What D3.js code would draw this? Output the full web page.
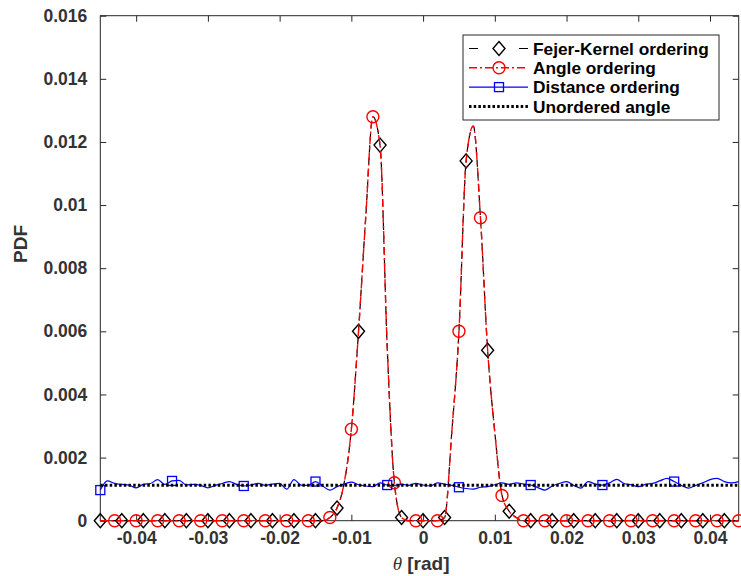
<!DOCTYPE html>
<html>
<head>
<meta charset="utf-8">
<script src="https://cdn.jsdelivr.net/npm/d3@7"></script>
<style>
  body { margin: 0; background: #fff; }
  text { font-family: "Liberation Sans", Arial, sans-serif; }
</style>
</head>
<body>
<div id="chart"></div>
<script>
// chart data (theta grid step 0.001 rad, from -0.045 to 0.044)
var thetaGrid = d3.range(90).map(i => +(-0.045 + 0.001 * i).toFixed(3));

var fejerPdf = [
  0, 0, 0, 0, 0, 0, 0, 0, 0, 0,
  0, 0, 0, 0, 0, 0, 0, 0, 0, 0,
  0, 0, 0, 0, 0, 0, 0, 0, 0, 0,
  0, 0, 0.0001, 0.0004, 0.0012, 0.0029, 0.0060, 0.0096, 0.0128, 0.0119,
  0.0055, 0.0012, 0.0001, 0, 0, 0, 0, 0, 0.0001, 0.0028,
  0.0060, 0.0114, 0.0125, 0.0096, 0.0054, 0.0028, 0.0008, 0.0003, 0.0001, 0,
  0, 0, 0, 0, 0, 0, 0, 0, 0, 0,
  0, 0, 0, 0, 0, 0, 0, 0, 0, 0,
  0, 0, 0, 0, 0, 0, 0, 0, 0, 0
];

var anglePdf = [
  0, 0, 0, 0, 0, 0, 0, 0, 0, 0,
  0, 0, 0, 0, 0, 0, 0, 0, 0, 0,
  0, 0, 0, 0, 0, 0, 0, 0, 0, 0,
  0, 0, 0.0001, 0.0004, 0.0012, 0.0029, 0.0060, 0.0096, 0.0128, 0.0119,
  0.0055, 0.0012, 0.0001, 0, 0, 0, 0, 0, 0.0001, 0.0028,
  0.0060, 0.0114, 0.0125, 0.0096, 0.0054, 0.0028, 0.0008, 0.0003, 0.0001, 0,
  0, 0, 0, 0, 0, 0, 0, 0, 0, 0,
  0, 0, 0, 0, 0, 0, 0, 0, 0, 0,
  0, 0, 0, 0, 0, 0, 0, 0, 0, 0
];

var distancePdf = [
  0.00097, 0.00126, 0.00118, 0.00115, 0.00113, 0.00104, 0.00115, 0.00118, 0.00130, 0.00115,
  0.00126, 0.00128, 0.00113, 0.00115, 0.00112, 0.00104, 0.00112, 0.00118, 0.00124, 0.00115,
  0.00110, 0.00113, 0.00118, 0.00112, 0.00116, 0.00118, 0.00100, 0.00130, 0.00113, 0.00112,
  0.00124, 0.00110, 0.00097, 0.00108, 0.00116, 0.00122, 0.00114, 0.00110, 0.00108, 0.00120,
  0.00113, 0.00112, 0.00116, 0.00112, 0.00118, 0.00113, 0.00110, 0.00120, 0.00116, 0.00112,
  0.00106, 0.00102, 0.00100, 0.00106, 0.00108, 0.00114, 0.00120, 0.00115, 0.00120, 0.00116,
  0.00113, 0.00105, 0.00097, 0.00110, 0.00118, 0.00124, 0.00112, 0.00103, 0.00124, 0.00116,
  0.00113, 0.00120, 0.00131, 0.00118, 0.00114, 0.00108, 0.00115, 0.00118, 0.00126, 0.00134,
  0.00124, 0.00112, 0.00103, 0.00112, 0.00120, 0.00130, 0.00134, 0.00124, 0.00120, 0.00124
];

var unorderedTheta = [-0.045, 0.044];
var unorderedPdf = [0.00112, 0.00112];

var xTicks = [-0.04, -0.03, -0.02, -0.01, 0, 0.01, 0.02, 0.03, 0.04];
var xTickLabels = ["-0.04", "-0.03", "-0.02", "-0.01", "0", "0.01", "0.02", "0.03", "0.04"];
var yTicks = [0, 0.002, 0.004, 0.006, 0.008, 0.01, 0.012, 0.014, 0.016];
var yTickLabels = ["0", "0.002", "0.004", "0.006", "0.008", "0.01", "0.012", "0.014", "0.016"];

var legendNames = ["Fejer-Kernel ordering", "Angle ordering", "Distance ordering", "Unordered angle"];

// size and margins
var svgWidth = 741;
var svgHeight = 576;
var margin = { top: 15.7, right: 2.3, bottom: 55.3, left: 100.3 };
var chartWidth = svgWidth - margin.left - margin.right;
var chartHeight = svgHeight - margin.top - margin.bottom;
var axisColor = "#262626";

var svg = d3.select("#chart")
  .append("svg")
  .attr("width", svgWidth)
  .attr("height", svgHeight);

var chartGroup = svg.append("g")
  .attr("transform", `translate(${margin.left}, ${margin.top})`);

var xScale = d3.scaleLinear().domain([-0.045, 0.044]).range([0, chartWidth]);
var yScale = d3.scaleLinear().domain([0, 0.016]).range([chartHeight, 0]);

// axes: ticks inside on all four sides
var tickLen = 6;
function styleAxis(g) {
  g.select(".domain").remove();
  g.selectAll(".tick line").attr("stroke", axisColor).attr("stroke-width", 1);
  g.selectAll(".tick text")
    .attr("fill", "#333")
    .attr("font-size", 17.5)
    .attr("font-weight", "bold");
}

chartGroup.append("g")
  .attr("transform", `translate(0, ${chartHeight})`)
  .call(d3.axisBottom(xScale).tickValues(xTicks).tickSize(-tickLen).tickPadding(11)
    .tickFormat((d, i) => xTickLabels[i]))
  .call(styleAxis);

chartGroup.append("g")
  .call(d3.axisTop(xScale).tickValues(xTicks).tickSize(-tickLen).tickFormat(""))
  .call(styleAxis);

chartGroup.append("g")
  .call(d3.axisLeft(yScale).tickValues(yTicks).tickSize(-tickLen).tickPadding(13)
    .tickFormat((d, i) => yTickLabels[i]))
  .call(styleAxis);

chartGroup.append("g")
  .attr("transform", `translate(${chartWidth}, 0)`)
  .call(d3.axisRight(yScale).tickValues(yTicks).tickSize(-tickLen).tickFormat(""))
  .call(styleAxis);

chartGroup.append("rect")
  .attr("width", chartWidth)
  .attr("height", chartHeight)
  .attr("fill", "none")
  .attr("stroke", axisColor)
  .attr("stroke-width", 1);

// series
var fejerData = thetaGrid.map((t, i) => ({ x: t, y: fejerPdf[i], i: i }));
var angleData = thetaGrid.map((t, i) => ({ x: t, y: anglePdf[i], i: i }));
var distanceData = thetaGrid.map((t, i) => ({ x: t, y: distancePdf[i], i: i }));
var unorderedData = unorderedTheta.map((t, i) => ({ x: t, y: unorderedPdf[i] }));

var line = d3.line().x(d => xScale(d.x)).y(d => yScale(d.y));
var smoothLine = d3.line().x(d => xScale(d.x)).y(d => yScale(d.y)).curve(d3.curveMonotoneX);

var diamondPath = "M0,-7L6,0L0,7L-6,0Z";

// Fejer-Kernel ordering
chartGroup.append("path")
  .datum(fejerData)
  .attr("d", smoothLine)
  .attr("fill", "none")
  .attr("stroke", "#000")
  .attr("stroke-width", 1.2)
  .attr("stroke-dasharray", "7,5");

chartGroup.selectAll(".fejerMark")
  .data(fejerData.filter(d => d.i % 3 === 0))
  .enter()
  .append("path")
  .attr("class", "fejerMark")
  .attr("transform", d => `translate(${xScale(d.x)}, ${yScale(d.y)})`)
  .attr("d", diamondPath)
  .attr("fill", "none")
  .attr("stroke", "#000")
  .attr("stroke-width", 1.4);

// Angle ordering
chartGroup.append("path")
  .datum(angleData)
  .attr("d", smoothLine)
  .attr("fill", "none")
  .attr("stroke", "#ff0000")
  .attr("stroke-width", 1.4)
  .attr("stroke-dasharray", "8,3,2,3");

chartGroup.selectAll(".angleMark")
  .data(angleData.filter(d => d.i % 3 === 2))
  .enter()
  .append("circle")
  .attr("class", "angleMark")
  .attr("cx", d => xScale(d.x))
  .attr("cy", d => yScale(d.y))
  .attr("r", 6)
  .attr("fill", "none")
  .attr("stroke", "#ff0000")
  .attr("stroke-width", 1.4);

// Distance ordering
chartGroup.append("path")
  .datum(distanceData)
  .attr("d", smoothLine)
  .attr("fill", "none")
  .attr("stroke", "#0000ff")
  .attr("stroke-width", 1.2);

chartGroup.selectAll(".distMark")
  .data(distanceData.filter(d => d.i % 10 === 0))
  .enter()
  .append("rect")
  .attr("class", "distMark")
  .attr("x", d => xScale(d.x) - 4.5)
  .attr("y", d => yScale(d.y) - 4.5)
  .attr("width", 9)
  .attr("height", 9)
  .attr("fill", "none")
  .attr("stroke", "#0000ff")
  .attr("stroke-width", 1.3);

// Unordered angle
chartGroup.append("path")
  .datum(unorderedData)
  .attr("d", line)
  .attr("fill", "none")
  .attr("stroke", "#000")
  .attr("stroke-width", 3)
  .attr("stroke-dasharray", "2.5,2.2");

// axis titles
var xLabel = svg.append("text")
  .attr("x", margin.left + xScale(0) - 2)
  .attr("y", 570)
  .attr("text-anchor", "middle")
  .attr("fill", "#333")
  .attr("font-size", 19);
xLabel.append("tspan")
  .attr("font-family", "Liberation Serif, serif")
  .attr("font-style", "italic")
  .text("θ");
xLabel.append("tspan")
  .attr("font-weight", "bold")
  .text(" [rad]");

svg.append("text")
  .attr("transform", `translate(27, 244) rotate(-90)`)
  .attr("text-anchor", "middle")
  .attr("fill", "#333")
  .attr("font-size", 19)
  .attr("font-weight", "bold")
  .text("PDF");

// legend
var legend = svg.append("g").attr("transform", "translate(463, 35)");
legend.append("rect")
  .attr("width", 256)
  .attr("height", 85)
  .attr("fill", "#fff")
  .attr("stroke", axisColor)
  .attr("stroke-width", 1);

var legendStyles = [
  { color: "#000", dash: "9,41", width: 1.2, mark: "diamond" },
  { color: "#ff0000", dash: "8,3,2,3", width: 1.4, mark: "circle" },
  { color: "#0000ff", dash: null, width: 1.2, mark: "square" },
  { color: "#000", dash: "2.5,2.2", width: 3, mark: null }
];

legendNames.forEach(function(name, i) {
  var row = legend.append("g").attr("transform", `translate(0, ${13.5 + i * 19.3})`);
  var s = legendStyles[i];
  row.append("line")
    .attr("x1", 6).attr("x2", 65)
    .attr("stroke", s.color)
    .attr("stroke-width", s.width)
    .attr("stroke-dasharray", s.dash);
  if (s.mark === "diamond") {
    row.append("path").attr("transform", "translate(36, 0)").attr("d", diamondPath)
      .attr("fill", "none").attr("stroke", s.color).attr("stroke-width", 1.4);
  } else if (s.mark === "circle") {
    row.append("circle").attr("cx", 36).attr("r", 6)
      .attr("fill", "none").attr("stroke", s.color).attr("stroke-width", 1.4);
  } else if (s.mark === "square") {
    row.append("rect").attr("x", 31.5).attr("y", -4.5).attr("width", 9).attr("height", 9)
      .attr("fill", "none").attr("stroke", s.color).attr("stroke-width", 1.3);
  }
  row.append("text")
    .attr("x", 70)
    .attr("dy", "0.36em")
    .attr("fill", "#000")
    .attr("font-size", 17.3)
    .attr("font-weight", "bold")
    .text(name);
});
</script>
</body>
</html>
